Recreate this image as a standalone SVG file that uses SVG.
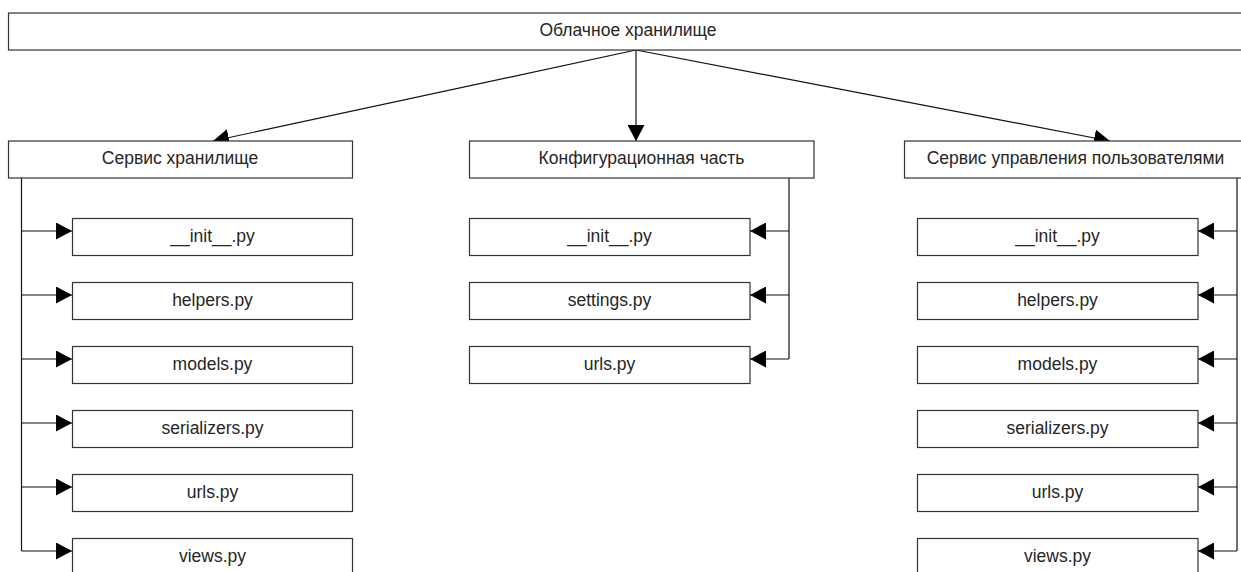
<svg xmlns="http://www.w3.org/2000/svg" width="1241" height="572" viewBox="0 0 1241 572">
<style>
.box{fill:#fff;stroke:#333;stroke-width:1.2}
.t{font-family:"Liberation Sans",Arial,sans-serif;font-size:17.5px;fill:#262626;text-anchor:middle}
.c{fill:none;stroke:#111;stroke-width:1.2}
</style>
<defs>
<marker id="ah" markerUnits="userSpaceOnUse" viewBox="0 0 16 17" refX="16" refY="8.5" markerWidth="16" markerHeight="17" orient="auto">
<path d="M0,0 L16,8.5 L0,17 z" fill="#000"/>
</marker>
</defs>
<rect width="1241" height="572" fill="#fff"/>
<g id="connectors">
<line class="c" x1="636" y1="50" x2="213" y2="141" marker-end="url(#ah)"/>
<line class="c" x1="636" y1="50" x2="636" y2="141" marker-end="url(#ah)"/>
<line class="c" x1="636" y1="50" x2="1110" y2="141" marker-end="url(#ah)"/>
<path class="c" d="M21.5,178 V551"/>
<line class="c" x1="21.5" y1="231" x2="72" y2="231" marker-end="url(#ah)"/>
<line class="c" x1="21.5" y1="295" x2="72" y2="295" marker-end="url(#ah)"/>
<line class="c" x1="21.5" y1="359" x2="72" y2="359" marker-end="url(#ah)"/>
<line class="c" x1="21.5" y1="423" x2="72" y2="423" marker-end="url(#ah)"/>
<line class="c" x1="21.5" y1="487" x2="72" y2="487" marker-end="url(#ah)"/>
<line class="c" x1="21.5" y1="551" x2="72" y2="551" marker-end="url(#ah)"/>
<path class="c" d="M789,178 V359"/>
<line class="c" x1="789" y1="231" x2="750" y2="231" marker-end="url(#ah)"/>
<line class="c" x1="789" y1="295" x2="750" y2="295" marker-end="url(#ah)"/>
<line class="c" x1="789" y1="359" x2="750" y2="359" marker-end="url(#ah)"/>
<path class="c" d="M1237,178 V551"/>
<line class="c" x1="1237" y1="231" x2="1198" y2="231" marker-end="url(#ah)"/>
<line class="c" x1="1237" y1="295" x2="1198" y2="295" marker-end="url(#ah)"/>
<line class="c" x1="1237" y1="359" x2="1198" y2="359" marker-end="url(#ah)"/>
<line class="c" x1="1237" y1="423" x2="1198" y2="423" marker-end="url(#ah)"/>
<line class="c" x1="1237" y1="487" x2="1198" y2="487" marker-end="url(#ah)"/>
<line class="c" x1="1237" y1="551" x2="1198" y2="551" marker-end="url(#ah)"/>
</g>
<g id="root"><rect class="box" x="8.5" y="13" width="1240" height="37"/><text class="t" x="628" y="36">Облачное хранилище</text></g>
<g id="storage"><rect class="box" x="8.5" y="141" width="344" height="37"/><text class="t" x="180" y="164">Сервис хранилище</text></g>
<g id="config"><rect class="box" x="469.5" y="141" width="344.5" height="37"/><text class="t" x="641.5" y="164">Конфигурационная часть</text></g>
<g id="users"><rect class="box" x="904.5" y="141" width="344" height="37"/><text class="t" x="1075.5" y="164">Сервис управления пользователями</text></g>
<g id="s1"><rect class="box" x="72.5" y="218.5" width="280" height="37"/><text class="t" x="212.5" y="241.5">__init__.py</text></g>
<g id="s2"><rect class="box" x="72.5" y="282.5" width="280" height="37"/><text class="t" x="212.5" y="305.5">helpers.py</text></g>
<g id="s3"><rect class="box" x="72.5" y="346.5" width="280" height="37"/><text class="t" x="212.5" y="369.5">models.py</text></g>
<g id="s4"><rect class="box" x="72.5" y="410.5" width="280" height="37"/><text class="t" x="212.5" y="433.5">serializers.py</text></g>
<g id="s5"><rect class="box" x="72.5" y="474.5" width="280" height="37"/><text class="t" x="212.5" y="497.5">urls.py</text></g>
<g id="s6"><rect class="box" x="72.5" y="538.5" width="280" height="37"/><text class="t" x="212.5" y="561.5">views.py</text></g>
<g id="c1"><rect class="box" x="469.5" y="218.5" width="280.5" height="37"/><text class="t" x="609.5" y="241.5">__init__.py</text></g>
<g id="c2"><rect class="box" x="469.5" y="282.5" width="280.5" height="37"/><text class="t" x="609.5" y="305.5">settings.py</text></g>
<g id="c3"><rect class="box" x="469.5" y="346.5" width="280.5" height="37"/><text class="t" x="609.5" y="369.5">urls.py</text></g>
<g id="u1"><rect class="box" x="917.5" y="218.5" width="280.5" height="37"/><text class="t" x="1057.5" y="241.5">__init__.py</text></g>
<g id="u2"><rect class="box" x="917.5" y="282.5" width="280.5" height="37"/><text class="t" x="1057.5" y="305.5">helpers.py</text></g>
<g id="u3"><rect class="box" x="917.5" y="346.5" width="280.5" height="37"/><text class="t" x="1057.5" y="369.5">models.py</text></g>
<g id="u4"><rect class="box" x="917.5" y="410.5" width="280.5" height="37"/><text class="t" x="1057.5" y="433.5">serializers.py</text></g>
<g id="u5"><rect class="box" x="917.5" y="474.5" width="280.5" height="37"/><text class="t" x="1057.5" y="497.5">urls.py</text></g>
<g id="u6"><rect class="box" x="917.5" y="538.5" width="280.5" height="37"/><text class="t" x="1057.5" y="561.5">views.py</text></g>
</svg>
